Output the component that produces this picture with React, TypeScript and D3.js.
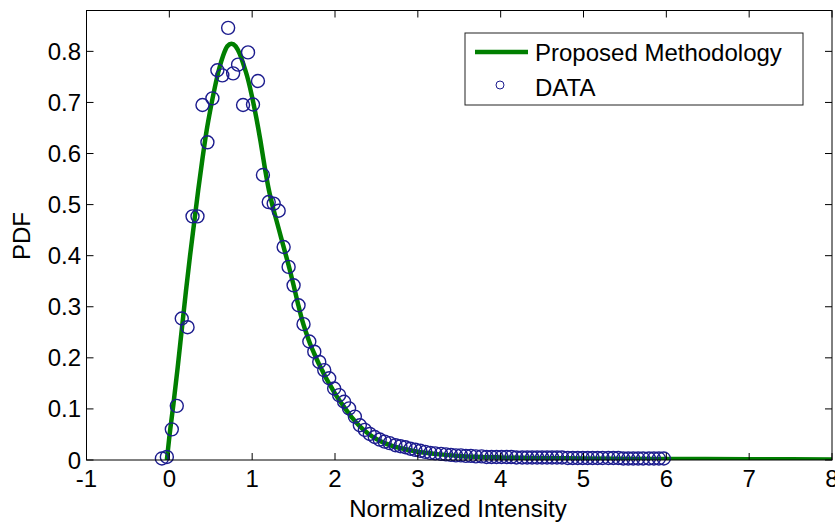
import React from "react";
import * as d3 from "d3";

// Fitted curve (Proposed Methodology)
const curveX = [-0.03, 0.0, 0.05, 0.1, 0.15, 0.2, 0.25, 0.3, 0.35, 0.4, 0.45, 0.5, 0.55, 0.6, 0.65, 0.7, 0.75, 0.8, 0.85, 0.9, 0.95, 1.0, 1.05, 1.1, 1.15, 1.2, 1.25, 1.3, 1.35, 1.4, 1.45, 1.5, 1.55, 1.6, 1.65, 1.7, 1.75, 1.8, 1.85, 1.9, 1.95, 2.0, 2.1, 2.2, 2.3, 2.4, 2.5, 2.6, 2.7, 2.8, 3.0, 3.2, 3.5, 4.0, 5.0, 6.0, 7.0, 8.0];
const curveY = [0, 0.045, 0.11, 0.18, 0.255, 0.33, 0.4, 0.465, 0.53, 0.59, 0.645, 0.69, 0.73, 0.765, 0.792, 0.81, 0.815, 0.81, 0.795, 0.772, 0.745, 0.71, 0.67, 0.625, 0.575, 0.53, 0.495, 0.465, 0.435, 0.405, 0.375, 0.342, 0.308, 0.276, 0.25, 0.227, 0.208, 0.19, 0.174, 0.158, 0.144, 0.13, 0.106, 0.084, 0.066, 0.052, 0.041, 0.033, 0.027, 0.023, 0.016, 0.012, 0.008, 0.005, 0.003, 0.002, 0.0015, 0.001];

// Empirical DATA points
const dataX = [-0.09, -0.03, 0.03, 0.09, 0.15, 0.22, 0.28, 0.34, 0.40, 0.46, 0.52, 0.58, 0.64, 0.71, 0.77, 0.83, 0.89, 0.95, 1.01, 1.07, 1.13, 1.20, 1.26, 1.32, 1.38, 1.44, 1.50, 1.56, 1.62, 1.69, 1.75, 1.81, 1.87, 1.93, 1.99, 2.05, 2.11, 2.17, 2.24, 2.30, 2.36, 2.42, 2.48, 2.54, 2.60, 2.66, 2.73, 2.79, 2.85, 2.91, 2.97, 3.03, 3.09, 3.15, 3.21, 3.28, 3.34, 3.40, 3.46, 3.52, 3.58, 3.64, 3.70, 3.77, 3.83, 3.89, 3.95, 4.01, 4.07, 4.13, 4.19, 4.26, 4.32, 4.38, 4.44, 4.50, 4.56, 4.62, 4.68, 4.74, 4.81, 4.87, 4.93, 4.99, 5.05, 5.11, 5.17, 5.23, 5.30, 5.36, 5.42, 5.48, 5.54, 5.60, 5.66, 5.72, 5.79, 5.85, 5.91, 5.97];
const dataY = [0.003, 0.006, 0.06, 0.106, 0.277, 0.26, 0.477, 0.477, 0.695, 0.622, 0.708, 0.763, 0.753, 0.846, 0.757, 0.774, 0.695, 0.798, 0.696, 0.742, 0.558, 0.505, 0.502, 0.488, 0.417, 0.378, 0.342, 0.303, 0.266, 0.232, 0.212, 0.192, 0.176, 0.16, 0.14, 0.127, 0.114, 0.101, 0.085, 0.068, 0.059, 0.051, 0.045, 0.04, 0.036, 0.033, 0.029, 0.027, 0.025, 0.022, 0.02, 0.018, 0.016, 0.014, 0.013, 0.012, 0.011, 0.01, 0.009, 0.009, 0.008, 0.008, 0.007, 0.007, 0.006, 0.006, 0.006, 0.006, 0.006, 0.006, 0.005, 0.005, 0.005, 0.005, 0.005, 0.005, 0.005, 0.005, 0.005, 0.005, 0.004, 0.004, 0.004, 0.004, 0.004, 0.004, 0.004, 0.004, 0.004, 0.004, 0.004, 0.003, 0.003, 0.003, 0.003, 0.003, 0.003, 0.003, 0.003, 0.003];

const xTicks = [-1, 0, 1, 2, 3, 4, 5, 6, 7, 8];
const yTicks = [0, 0.1, 0.2, 0.3, 0.4, 0.5, 0.6, 0.7, 0.8];
const legendLabels = ["Proposed Methodology", "DATA"];

const W = 835;
const H = 522;
const L = 86.5, R = 832, T = 10.5, B = 460;
const FONT = "'Liberation Sans', Arial, Helvetica, sans-serif";
const GREEN = "#007f00";
const BLUE = "#1c1c8e";

export default function App() {
  const x = d3.scaleLinear().domain([-1, 8]).range([L, R]);
  const y = d3.scaleLinear().domain([0, 0.88]).range([B, T]);
  const line = d3
    .line<number>()
    .x((_, i) => x(curveX[i]))
    .y((d) => y(d))
    .curve(d3.curveMonotoneX);
  const tick = 7;

  return (
    <svg
      width={W}
      height={H}
      style={{ position: "absolute", left: 0, top: 0, background: "#fff" }}
      fontFamily={FONT}
    >
      <defs>
        <clipPath id="plotClip">
          <rect x={L} y={T} width={R - L} height={B - T} />
        </clipPath>
      </defs>
      <rect x={0} y={0} width={W} height={H} fill="#fff" />

      {/* data */}
      <g clipPath="url(#plotClip)">
        <path d={line(curveY) || ""} fill="none" stroke={GREEN} strokeWidth={4.5} strokeLinejoin="round" />
      </g>
      <g>
        {dataX.map((dx, i) => (
          <circle key={i} cx={x(dx)} cy={y(dataY[i])} r={6.5} fill="none" stroke={BLUE} strokeWidth={1.4} />
        ))}
      </g>

      {/* axes box */}
      <rect x={L} y={T} width={R - L} height={B - T} fill="none" stroke="#000" strokeWidth={1} />
      {xTicks.map((t) => (
        <g key={"x" + t}>
          <line x1={x(t)} x2={x(t)} y1={B} y2={B - tick} stroke="#000" />
          <line x1={x(t)} x2={x(t)} y1={T} y2={T + tick} stroke="#000" />
          <text x={x(t)} y={487} fontSize={24} textAnchor="middle" fill="#000">
            {t}
          </text>
        </g>
      ))}
      {yTicks.map((t) => (
        <g key={"y" + t}>
          <line x1={L} x2={L + tick} y1={y(t)} y2={y(t)} stroke="#000" />
          <line x1={R} x2={R - tick} y1={y(t)} y2={y(t)} stroke="#000" />
          <text x={81} y={y(t) + 8.5} fontSize={24} textAnchor="end" fill="#000">
            {t === 0 ? "0" : d3.format(".1f")(t)}
          </text>
        </g>
      ))}

      {/* axis labels */}
      <text x={458} y={517} fontSize={24} textAnchor="middle" fill="#000">
        Normalized Intensity
      </text>
      <text transform="translate(30,236) rotate(-90)" fontSize={24} textAnchor="middle" fill="#000">
        PDF
      </text>

      {/* legend */}
      <rect x={465} y={33} width={338} height={72} fill="#fff" stroke="#222" strokeWidth={1} />
      <line x1={475} x2={528} y1={52} y2={52} stroke={GREEN} strokeWidth={4.5} />
      <text x={535} y={61} fontSize={24} fill="#000">
        {legendLabels[0]}
      </text>
      <circle cx={500} cy={85} r={4} fill="none" stroke={BLUE} strokeWidth={1} />
      <text x={535} y={96} fontSize={24} fill="#000">
        {legendLabels[1]}
      </text>
    </svg>
  );
}
